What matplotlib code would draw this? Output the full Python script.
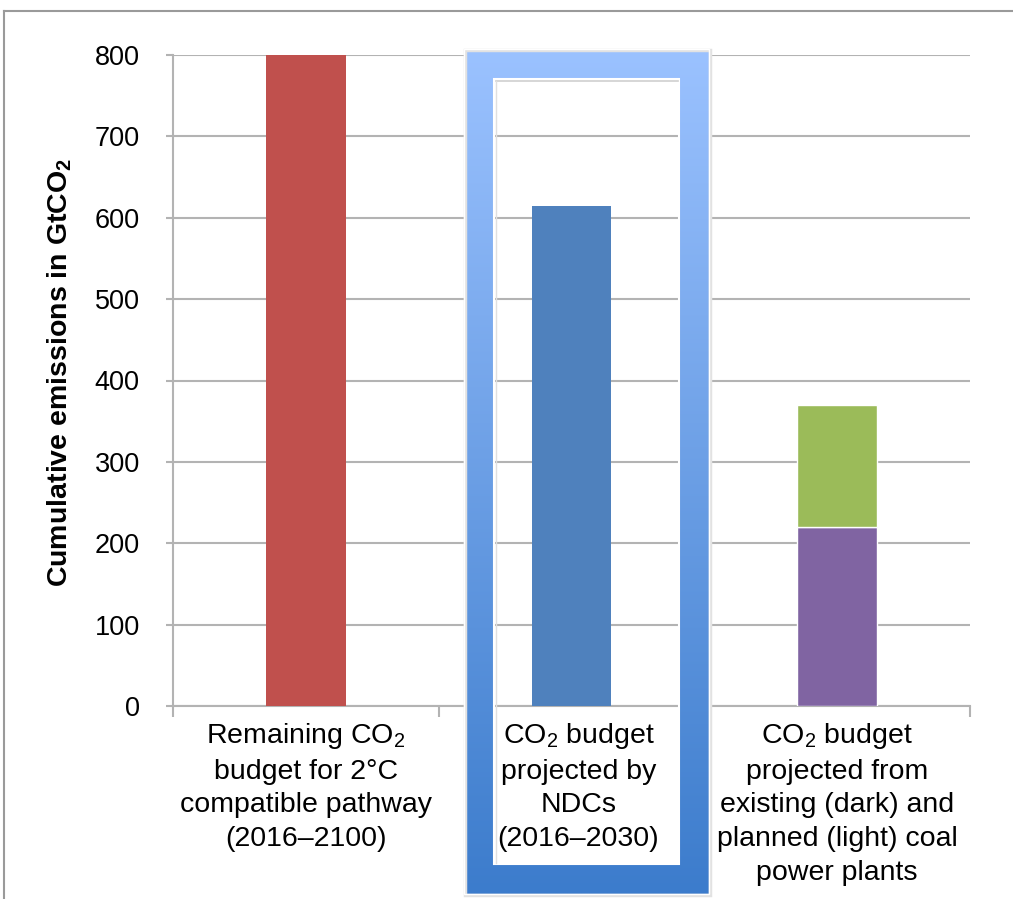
import numpy as np
import matplotlib.pyplot as plt
from matplotlib.path import Path
from matplotlib.patches import PathPatch, Rectangle
from matplotlib.lines import Line2D
from matplotlib.transforms import ScaledTranslation

plt.rcParams['font.family'] = ['Liberation Sans', 'DejaVu Sans']

# data
categories = [
    'Remaining CO$_\\mathregular{2}$\nbudget for 2°C\ncompatible pathway\n(2016–2100)',
    'CO$_\\mathregular{2}$ budget\nprojected by\nNDCs\n(2016–2030)',
    'CO$_\\mathregular{2}$ budget\nprojected from\nexisting (dark) and\nplanned (light) coal\npower plants',
]
base_values = [800, 615, 220]      # remaining budget, NDCs, existing coal plants
planned_values = [0, 0, 150]       # planned coal plants (stacked on top)
base_colors = ['#C0504D', '#4F81BD', '#8064A2']
planned_color = '#9BBB59'
yticks = [0, 100, 200, 300, 400, 500, 600, 700, 800]

W, H = 1013, 899
fig = plt.figure(figsize=(W / 100, H / 100), dpi=100)
ax = fig.add_axes([173 / W, 1 - 706 / H, 797 / W, 651 / H])

x = np.arange(len(categories))
ax.bar(x, base_values, width=0.30, color=base_colors, zorder=3,
       edgecolor=['none', 'none', 'white'], linewidth=1)
ax.bar(x[2:], planned_values[2:], width=0.30, bottom=base_values[2:],
       color=planned_color, edgecolor='white', linewidth=1, zorder=3)

grid_col = '#B3B3B3'
ax.set_xlim(-0.5, 2.5)
ax.set_ylim(0, 800)
ax.set_yticks(yticks)
ax.set_yticklabels([str(v) for v in yticks], fontsize=19.5)
ax.yaxis.grid(True, color=grid_col, linewidth=1.5)
ax.set_axisbelow(True)
ax.tick_params(axis='y', length=5, width=1.5, color=grid_col, pad=19)

ax.set_xticks(x)
ax.set_xticklabels(categories, fontsize=20.5, linespacing=1.38)
ax.set_xticks([-0.5, 0.5, 1.5, 2.5], minor=True)
ax.tick_params(axis='x', which='major', length=0, pad=11)
ax.tick_params(axis='x', which='minor', length=8, width=1.5, color=grid_col)

# middle label sits a little to the right inside the highlight frame
mid = ax.get_xticklabels()[1]
mid.set_transform(mid.get_transform() + ScaledTranslation(7 / 100, 0, fig.dpi_scale_trans))

for s in ['top', 'right']:
    ax.spines[s].set_visible(False)
for s in ['left', 'bottom']:
    ax.spines[s].set_color(grid_col)
    ax.spines[s].set_linewidth(1.5)

ax.set_ylabel('Cumulative emissions in GtCO$_\\mathregular{2}$', fontsize=20.5,
              fontweight='bold', va='center')
ax.yaxis.set_label_coords((60 - 173) / 797, 0.513)

# overlay in pixel coordinates for the highlight frame and outer border
ov = fig.add_axes([0, 0, 1, 1], zorder=10)
ov.patch.set_visible(False)
ov.axis('off')

x0, x1, y0, y1 = 464, 709, 49, 894      # outer box
i0, i1, j0, j1 = 494, 679, 79, 864      # inner hole

# soft shadow around the frame
ov.add_patch(Rectangle((x0 + 1, y0 + 1), x1 - x0, y1 - y0, facecolor='none',
                       edgecolor='#E2E2E2', linewidth=2.5))

top = np.array([155, 194, 255]) / 255
bot = np.array([60, 124, 204]) / 255
t = np.linspace(0, 1, 256)[:, None]
grad = (top * (1 - t) + bot * t)[:, None, :]
im = ov.imshow(grad, extent=(x0, x1, y1, y0), aspect='auto', origin='upper',
               interpolation='bilinear')

verts = [(x0, y0), (x1, y0), (x1, y1), (x0, y1), (x0, y0),
         (i0, j0), (i0, j1), (i1, j1), (i1, j0), (i0, j0)]
codes = [Path.MOVETO, Path.LINETO, Path.LINETO, Path.LINETO, Path.CLOSEPOLY] * 2
frame = PathPatch(Path(verts, codes), transform=ov.transData,
                  facecolor='none', edgecolor='none')
ov.add_patch(frame)
im.set_clip_path(frame)

# white edges and inner shadow
ov.add_patch(Rectangle((x0, y0), x1 - x0, y1 - y0, facecolor='none',
                       edgecolor='white', linewidth=1.0))
ov.add_line(Line2D([i0 + 2, i1 - 1], [j0 + 2, j0 + 2], color='#CFCFCF', linewidth=1.2))
ov.add_line(Line2D([i0 + 2, i0 + 2], [j0 + 2, j1 - 1], color='#E0E0E0', linewidth=1.0))
ov.add_patch(Rectangle((i0, j0), i1 - i0, j1 - j0, facecolor='none',
                       edgecolor='white', linewidth=1.5))

# outer picture border
ov.add_line(Line2D([4, W], [11, 11], color='#9A9A9A', linewidth=1.5))
ov.add_line(Line2D([4, 4], [11, H], color='#9A9A9A', linewidth=1.5))

ov.set_xlim(0, W)
ov.set_ylim(H, 0)

fig.savefig('out.png', dpi=100, facecolor='white')
